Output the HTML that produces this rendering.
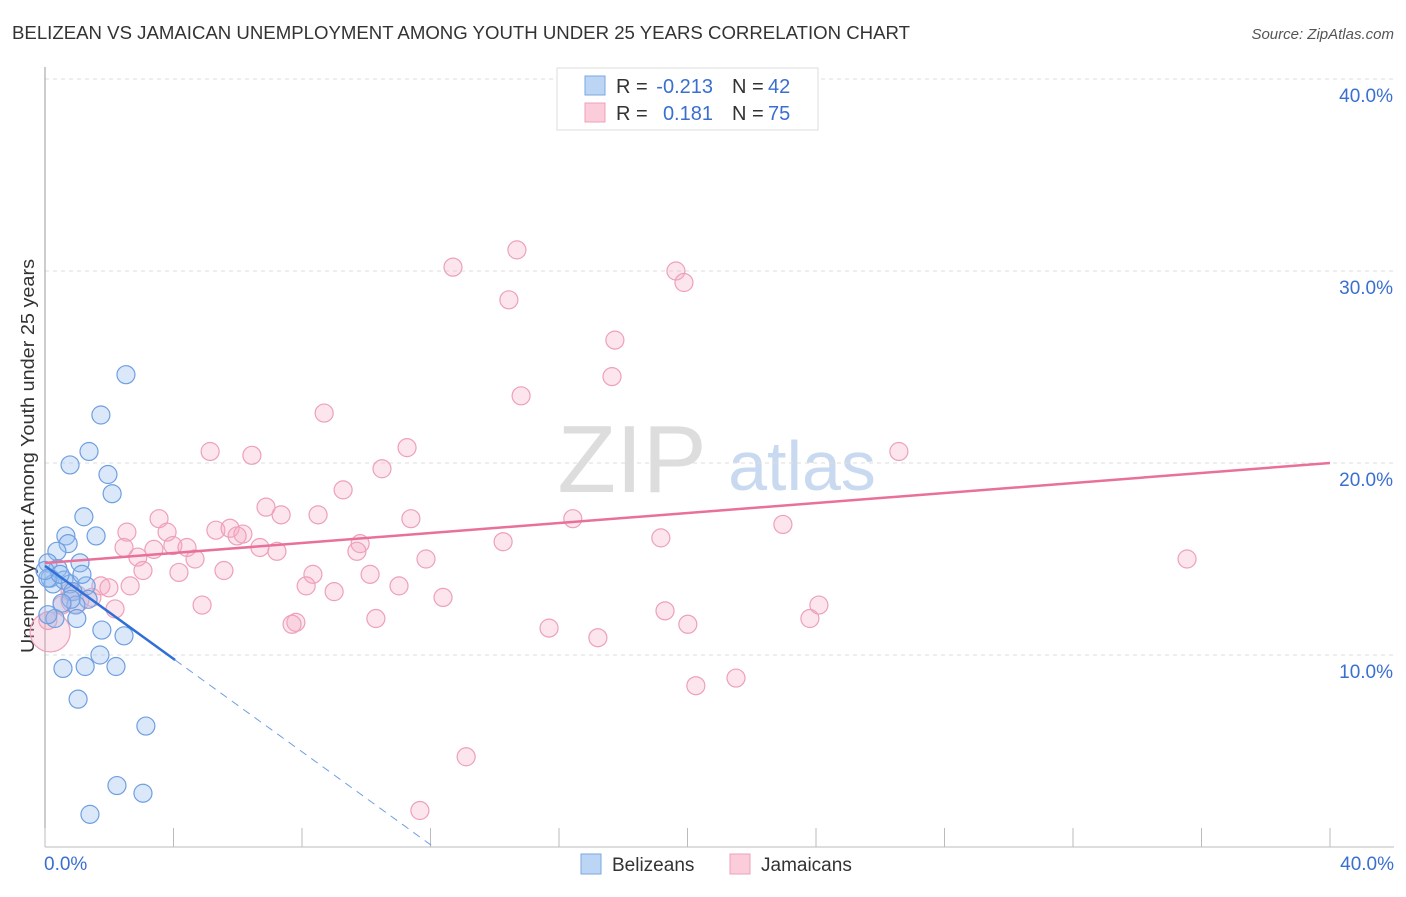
<!DOCTYPE html>
<html><head><meta charset="utf-8"><style>
body{margin:0;background:#fff;font-family:"Liberation Sans",sans-serif}
svg text{font-family:"Liberation Sans",sans-serif}
</style></head><body>
<svg id="c" width="1406" height="892">
<text x="12" y="39" font-size="18" fill="#333" textLength="898" lengthAdjust="spacingAndGlyphs">BELIZEAN VS JAMAICAN UNEMPLOYMENT AMONG YOUTH UNDER 25 YEARS CORRELATION CHART</text>
<text x="1394" y="39" font-size="15" fill="#555" font-style="italic" text-anchor="end">Source: ZipAtlas.com</text>
<text x="34" y="456" font-size="18" fill="#333" text-anchor="middle" textLength="394" lengthAdjust="spacingAndGlyphs" transform="rotate(-90 34 456)">Unemployment Among Youth under 25 years</text>
<text x="632" y="492" font-size="96" fill="#ddd" font-family="Liberation Serif" text-anchor="middle">ZIP</text>
<text x="802" y="490" font-size="70" fill="#c9daf0" text-anchor="middle">atlas</text>
<g id="grid"></g><g id="pts"></g><g id="lines"></g>
<g>
<rect x="557" y="68" width="261" height="62" fill="#fff" stroke="#ddd"/>
<rect x="585" y="76" width="20" height="19" fill="#bcd5f5" stroke="#7aa7e0"/>
<rect x="585" y="103" width="20" height="19" fill="#fbccd9" stroke="#eea0b8"/>
<text x="616" y="93" font-size="20" fill="#333">R =</text>
<text x="713" y="93" font-size="20" fill="#3a6fd0" text-anchor="end">-0.213</text>
<text x="732" y="93" font-size="20" fill="#333">N =</text>
<text x="768" y="93" font-size="20" fill="#3a6fd0">42</text>
<text x="616" y="120" font-size="20" fill="#333">R =</text>
<text x="713" y="120" font-size="20" fill="#3a6fd0" text-anchor="end">0.181</text>
<text x="732" y="120" font-size="20" fill="#333">N =</text>
<text x="768" y="120" font-size="20" fill="#3a6fd0">75</text>
</g>
<g>
<rect x="581" y="854" width="20" height="20" fill="#bcd5f5" stroke="#7aa7e0"/>
<text x="612" y="871" font-size="19" fill="#333">Belizeans</text>
<rect x="730" y="854" width="20" height="20" fill="#fbccd9" stroke="#eea0b8"/>
<text x="761" y="871" font-size="19" fill="#333">Jamaicans</text>
</g>
</svg>
<script>
const yTicks=[10,20,30,40];
const yTickLabels=["10.0%","20.0%","30.0%","40.0%"];
const xTicks=[0,4,8,12,16,20,24,28,32,36,40];
const blueX=[2.52,1.74,1.37,0.78,1.96,2.09,1.21,0.65,1.59,0.72,0.37,0.09,1.09,0.40,0.16,0.25,0.59,0.78,1.28,1.15,0.87,1.34,0.96,0.99,0.31,1.77,2.46,1.71,1.25,0.56,2.21,1.03,3.14,2.24,3.05,1.40,0.09,0.09,0.47,0.0,0.81,0.53];
const blueY=[24.6,22.5,20.6,19.9,19.4,18.4,17.2,16.2,16.2,15.8,15.4,14.8,14.8,14.5,14.0,13.7,13.9,13.7,13.6,14.2,13.3,12.9,12.6,11.9,11.9,11.3,11.0,10.0,9.4,9.3,9.4,7.7,6.3,3.2,2.8,1.7,12.1,14.0,14.2,14.4,12.9,12.7];
const pinkX=[14.69,12.70,19.64,19.89,14.44,17.74,17.65,14.82,8.69,11.27,5.14,6.44,26.58,10.49,9.28,6.88,7.35,11.39,8.50,16.43,3.55,2.55,3.80,5.32,5.76,6.16,5.98,22.97,19.17,14.26,9.81,3.98,9.71,2.46,4.42,6.69,7.22,3.39,2.89,4.67,11.86,35.55,3.05,4.17,5.57,8.34,10.12,1.74,1.99,8.13,11.02,9.00,12.39,0.78,1.46,4.89,2.18,24.09,19.30,10.30,7.81,7.69,23.81,20.01,15.69,17.21,21.51,20.26,13.11,11.67,0.16,0.93,0.09,0.53,2.65];
const pinkY=[31.1,30.2,30.0,29.4,28.5,26.4,24.5,23.5,22.6,20.8,20.6,20.4,20.6,19.7,18.6,17.7,17.3,17.1,17.3,17.1,17.1,16.4,16.4,16.5,16.6,16.3,16.2,16.8,16.1,15.9,15.8,15.7,15.4,15.6,15.6,15.6,15.4,15.5,15.1,15.0,15.0,15.0,14.4,14.3,14.4,14.2,14.2,13.6,13.5,13.6,13.6,13.3,13.0,13.3,13.0,12.6,12.4,12.6,12.3,11.9,11.7,11.6,11.9,11.6,11.4,10.9,8.8,8.4,4.7,1.9,11.2,12.9,11.8,12.6,13.6];
const pinkSize=[9,9,9,9,9,9,9,9,9,9,9,9,9,9,9,9,9,9,9,9,9,9,9,9,9,9,9,9,9,9,9,9,9,9,9,9,9,9,9,9,9,9,9,9,9,9,9,9,9,9,9,9,9,9,9,9,9,9,9,9,9,9,9,9,9,9,9,9,9,9,20,14,9,9,9];
const pinkTrend=[14.79,20.0];
const blueTrend=[14.64,-1.21];
const NS="http://www.w3.org/2000/svg";
const sx=v=>45+v*(1285/40), sy=v=>847-v*19.2;
function mk(t,a,p){const e=document.createElementNS(NS,t);for(const k in a)e.setAttribute(k,a[k]);p.appendChild(e);return e;}
const g=document.getElementById('grid');
yTicks.forEach((t,i)=>{
 const l=mk('line',{x1:45,x2:1394,y1:sy(t),y2:sy(t),stroke:'#ddd','stroke-dasharray':'4,4'},g);
 
 
 const tx=mk('text',{x:1393,y:sy(t)+23,'font-size':19,fill:'#3a6fd0','text-anchor':'end'},g);
 tx.textContent=yTickLabels[i];
 
 
});
let ax=mk('line',{x1:45,x2:45,y1:67,y2:847,stroke:'#999'},g);


ax=mk('line',{x1:45,x2:1394,y1:847,y2:847,stroke:'#bbb'},g);


xTicks.forEach(t=>{
 const l=mk('line',{x1:sx(t),x2:sx(t),y1:828,y2:847,stroke:'#bbb'},g);
 
 
});
let t0=mk('text',{x:44,y:870,'font-size':19,fill:'#3a6fd0'},g);t0.textContent='0.0%';


t0=mk('text',{x:1394,y:870,'font-size':19,fill:'#3a6fd0','text-anchor':'end'},g);t0.textContent='40.0%';


const p=document.getElementById('pts');
pinkX.forEach((x,i)=>{
 const c=mk('circle',{cx:sx(x),cy:sy(pinkY[i]),r:pinkSize[i],fill:'rgba(246,170,195,0.3)',stroke:'#eea0b8','stroke-width':1.2},p);
 
 
});
blueX.forEach((x,i)=>{
 const c=mk('circle',{cx:sx(x),cy:sy(blueY[i]),r:9,fill:'rgba(150,190,240,0.35)',stroke:'#6f9fe0','stroke-width':1.2},p);
 
 
});
const L=document.getElementById('lines');
let tl=mk('line',{x1:sx(0),y1:sy(pinkTrend[0]),x2:sx(40),y2:sy(pinkTrend[1]),stroke:'#e8709a','stroke-width':2.5},L);


const bx=4.05, bz=-blueTrend[0]/blueTrend[1];
tl=mk('line',{x1:sx(0),y1:sy(blueTrend[0]),x2:sx(bx),y2:sy(blueTrend[0]+blueTrend[1]*bx),stroke:'#2f6fd6','stroke-width':2.5},L);


tl=mk('line',{x1:sx(bx),y1:sy(blueTrend[0]+blueTrend[1]*bx),x2:sx(bz),y2:sy(0),stroke:'#6f9fe0','stroke-width':1,'stroke-dasharray':'8,6'},L);


</script>
</body></html>
